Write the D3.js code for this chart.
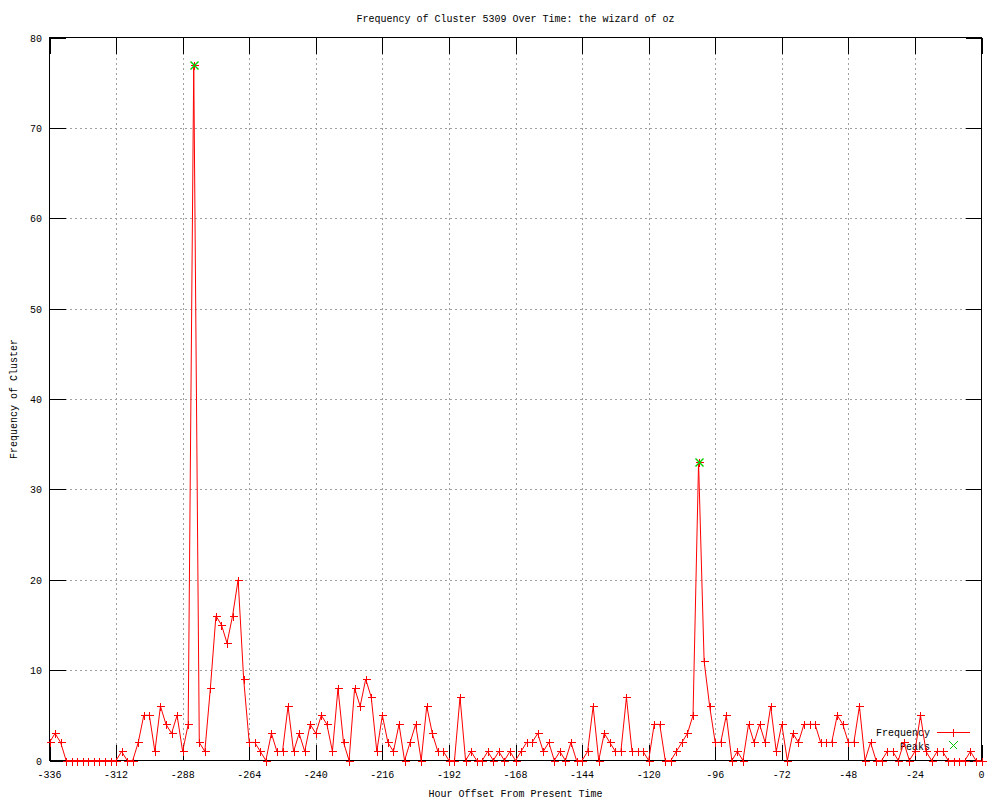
<!DOCTYPE html>
<html>
<head>
<meta charset="utf-8">
<script src="https://cdn.jsdelivr.net/npm/d3@7"></script>
<style>
    body { margin: 0; background: #fff; }
    text { font-family: "Liberation Mono", "DejaVu Sans Mono", monospace; font-size: 10px; fill: #000; }
</style>
</head>
<body>
<div id="chart"></div>
<script>
// counts per 2-hour bin (-336 .. 0)
var freq = [2, 3, 2, 0, 0, 0, 0, 0, 0, 0, 0, 0, 0, 1, 0, 0, 2, 5, 5, 1,
    6, 4, 3, 5, 1, 4, 77, 2, 1, 8, 16, 15, 13, 16, 20, 9, 2, 2, 1, 0,
    3, 1, 1, 6, 1, 3, 1, 4, 3, 5, 4, 1, 8, 2, 0, 8, 6, 9, 7, 1,
    5, 2, 1, 4, 0, 2, 4, 0, 6, 3, 1, 1, 0, 0, 7, 0, 1, 0, 0, 1,
    0, 1, 0, 1, 0, 1, 2, 2, 3, 1, 2, 0, 1, 0, 2, 0, 0, 1, 6, 0,
    3, 2, 1, 1, 7, 1, 1, 1, 0, 4, 4, 0, 0, 1, 2, 3, 5, 33, 11, 6,
    2, 2, 5, 0, 1, 0, 4, 2, 4, 2, 6, 1, 4, 0, 3, 2, 4, 4, 4, 2,
    2, 2, 5, 4, 2, 2, 6, 0, 2, 0, 0, 1, 1, 0, 2, 0, 1, 5, 1, 0,
    1, 1, 0, 0, 0, 0, 1, 0, 0];
var hours = d3.range(-336, 1, 2);

var peakHours = [-284, -102];
var peakValues = [77, 33];

var xTicks = [-336, -312, -288, -264, -240, -216, -192, -168, -144, -120, -96, -72, -48, -24, 0];
var yTicks = [0, 10, 20, 30, 40, 50, 60, 70, 80];

var width = 1000,
    height = 800,
    pLeft = 49.5, pRight = 981.5, pTop = 37.5, pBottom = 760.5,
    tickLen = 16;

var svg = d3.select("#chart")
    .append("svg")
    .attr("width", width)
    .attr("height", height);

var x = d3.scaleLinear().domain([-336, 0]).range([pLeft, pRight]);
var y = d3.scaleLinear().domain([0, 80]).range([pBottom, pTop]);

// grid
var grid = svg.append("g").attr("shape-rendering", "crispEdges");
grid.append("g").selectAll("line")
    .data(xTicks.slice(1, -1))
    .enter().append("line")
    .attr("x1", d => Math.round(x(d)) + 0.5).attr("x2", d => Math.round(x(d)) + 0.5)
    .attr("y1", pTop).attr("y2", pBottom)
    .attr("stroke", "#a0a0a0")
    .attr("stroke-dasharray", "2,3");

grid.append("g").selectAll("line")
    .data(yTicks.slice(1, -1))
    .enter().append("line")
    .attr("y1", d => Math.round(y(d)) + 0.5).attr("y2", d => Math.round(y(d)) + 0.5)
    .attr("x1", pLeft).attr("x2", pRight)
    .attr("stroke", "#a0a0a0")
    .attr("stroke-dasharray", "2,3");

// ticks, inward on all four sides
var ticks = svg.append("g").attr("stroke", "#000").attr("shape-rendering", "crispEdges");
xTicks.forEach(function (d) {
    var px = Math.round(x(d)) + 0.5;
    ticks.append("line").attr("x1", px).attr("x2", px).attr("y1", pBottom).attr("y2", pBottom - tickLen);
    ticks.append("line").attr("x1", px).attr("x2", px).attr("y1", pTop).attr("y2", pTop + tickLen);
});
yTicks.forEach(function (d) {
    var py = Math.round(y(d)) + 0.5;
    ticks.append("line").attr("y1", py).attr("y2", py).attr("x1", pLeft).attr("x2", pLeft + tickLen);
    ticks.append("line").attr("y1", py).attr("y2", py).attr("x1", pRight).attr("x2", pRight - tickLen);
});

svg.append("rect")
    .attr("x", pLeft).attr("y", pTop)
    .attr("width", pRight - pLeft).attr("height", pBottom - pTop)
    .attr("fill", "none")
    .attr("stroke", "#000")
    .attr("shape-rendering", "crispEdges");

// tick labels
svg.append("g").selectAll("text")
    .data(xTicks)
    .enter().append("text")
    .attr("x", d => x(d))
    .attr("y", 778)
    .attr("text-anchor", "middle")
    .text(d => d);

svg.append("g").selectAll("text")
    .data(yTicks)
    .enter().append("text")
    .attr("x", 42)
    .attr("y", d => y(d) + 4)
    .attr("text-anchor", "end")
    .text(d => d);

// titles
svg.append("text")
    .attr("x", (pLeft + pRight) / 2)
    .attr("y", 22)
    .attr("text-anchor", "middle")
    .text("Frequency of Cluster 5309 Over Time: the wizard of oz");

svg.append("text")
    .attr("x", (pLeft + pRight) / 2)
    .attr("y", 797)
    .attr("text-anchor", "middle")
    .text("Hour Offset From Present Time");

svg.append("text")
    .attr("transform", "translate(17," + ((pTop + pBottom) / 2) + ") rotate(-90)")
    .attr("text-anchor", "middle")
    .text("Frequency of Cluster");

// key text
svg.append("text").attr("x", 930).attr("y", 736).attr("text-anchor", "end").text("Frequency");
svg.append("text").attr("x", 930).attr("y", 750).attr("text-anchor", "end").text("Peaks");

// frequency line + markers
var line = d3.line()
    .x((d, i) => x(hours[i]))
    .y(d => y(d));

svg.append("path")
    .datum(freq)
    .attr("d", line)
    .attr("fill", "none")
    .attr("stroke", "#ff0000")
    .attr("stroke-width", 1);

function plus(g, cx, cy, s, col) {
    g.append("line").attr("x1", cx - s).attr("x2", cx + s).attr("y1", cy).attr("y2", cy).attr("stroke", col);
    g.append("line").attr("x1", cx).attr("x2", cx).attr("y1", cy - s).attr("y2", cy + s).attr("stroke", col);
}
function cross(g, cx, cy, s, col) {
    g.append("line").attr("x1", cx - s).attr("x2", cx + s).attr("y1", cy - s).attr("y2", cy + s).attr("stroke", col);
    g.append("line").attr("x1", cx - s).attr("x2", cx + s).attr("y1", cy + s).attr("y2", cy - s).attr("stroke", col);
}

var marks = svg.append("g").attr("shape-rendering", "crispEdges");
freq.forEach(function (d, i) {
    plus(marks, Math.round(x(hours[i])) + 0.5, Math.round(y(d)) + 0.5, 4, "#ff0000");
});

// key samples
var key = svg.append("g").attr("shape-rendering", "crispEdges");
key.append("line").attr("x1", 937).attr("x2", 970).attr("y1", 732.5).attr("y2", 732.5).attr("stroke", "#ff0000");
plus(key, 953.5, 732.5, 4, "#ff0000");
cross(key, 953.5, 745.5, 4, "#00c000");

// peaks: green x over the red +, drawn a touch heavier so it reads as green
var peaks = svg.append("g").attr("stroke-width", 1.5);
peakValues.forEach(function (d, i) {
    cross(peaks, Math.round(x(peakHours[i])) + 0.5, Math.round(y(d)) + 0.5, 4, "#00d000");
});
</script>
</body>
</html>
